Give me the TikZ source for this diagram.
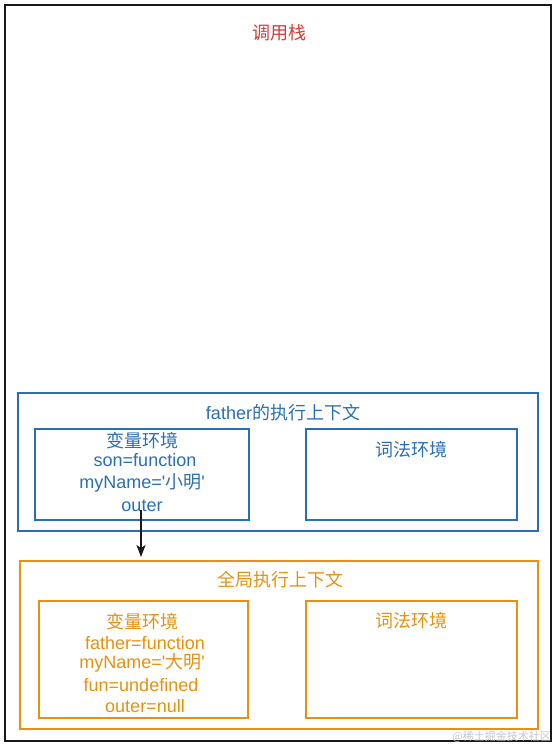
\documentclass[tikz,border=0pt]{standalone}
\usepackage{fontspec}
\setmainfont{Liberation Sans}[Ligatures=TeXOff]
\newfontfamily\zh{Noto Sans CJK SC}
\usetikzlibrary{arrows.meta}
\definecolor{cblue}{HTML}{2A6EB8}
\definecolor{corange}{HTML}{E8900F}
\definecolor{cred}{HTML}{D83A34}
\begin{document}
\begin{tikzpicture}[x=1pt,y=-1pt,
  bluebox/.style={draw=cblue,line width=1.8pt},
  orbox/.style={draw=corange,line width=1.8pt},
  btxt/.style={text=cblue,font=\fontsize{18}{20}\selectfont,inner sep=0pt},
  otxt/.style={text=corange,font=\fontsize{18}{20}\selectfont,inner sep=0pt}]
\useasboundingbox (0,0) rectangle (556,747);
% call stack
\draw[black!90,line width=1.8pt] (5,5) rectangle (551,741);
\node[text=cred,font=\fontsize{18}{20}\selectfont\zh] (stack) at (279,33) {调用栈};
% father context
\draw[bluebox] (18,393) rectangle (538,531);
\node[btxt] (ftitle) at (283,413) {father{\zh 的执行上下文}};
\draw[bluebox] (35,429) rectangle (249,520);
\node[btxt] (fv) at (142,441) {\zh 变量环境};
\node[btxt] (fv1) at (145,460) {son=function};
\node[btxt] (fv2) at (142,483) {myName='{\zh 小明}'};
\node[btxt] (fv3) at (142,506) {outer};
\draw[bluebox] (306,429) rectangle (517,520);
\node[btxt] (fl) at (411,450) {\zh 词法环境};
% global context
\draw[orbox] (20,561) rectangle (538,729);
\node[otxt] (gtitle) at (280,580) {\zh 全局执行上下文};
\draw[orbox] (39,601) rectangle (248,718);
\node[otxt] (gv) at (142,622) {\zh 变量环境};
\node[otxt] (gv1) at (145,643) {father=function};
\node[otxt] (gv2) at (142,663) {myName='{\zh 大明}'};
\node[otxt] (gv3) at (141,685) {fun=undefined};
\node[otxt] (gv4) at (145,706) {outer=null};
\draw[orbox] (306,601) rectangle (517,718);
\node[otxt] (gl) at (411,621) {\zh 词法环境};
\coordinate (gtop) at (141,557);
\coordinate (fstart) at (141,510);
\draw[black!90,line width=1.6pt,-{Stealth[length=12pt,width=9pt,inset=3pt]}] (fstart) -- (gtop);
% watermark
\node[text=black!22,font=\fontsize{11}{12}\selectfont\zh,anchor=east,inner sep=0pt] (wm) at (551,737) {@稀土掘金技术社区};
\end{tikzpicture}
\end{document}
